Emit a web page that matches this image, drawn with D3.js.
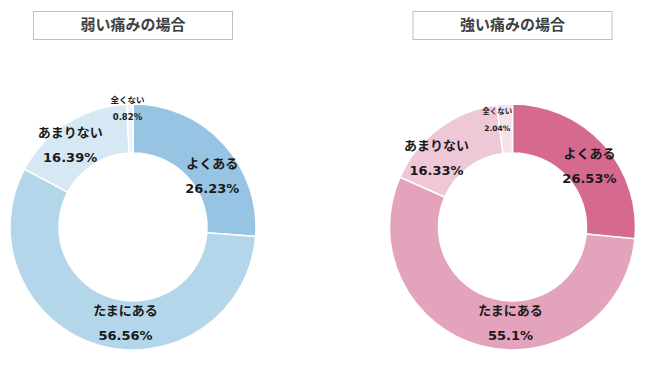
<!DOCTYPE html>
<html>
<head>
<meta charset="utf-8">
<script src="https://cdn.jsdelivr.net/npm/d3@7"></script>
<style>
  body { margin: 0; background: #fff; }
  svg { display: block; font-family: "DejaVu Sans", "Noto Sans CJK JP", sans-serif; }
</style>
</head>
<body>
<script>
// categories, clockwise from 12 o'clock
var categories = ["よくある", "たまにある", "あまりない", "全くない"];

// percentages per chart
var weakValues = [26.23, 56.56, 16.39, 0.82];
var strongValues = [26.53, 55.1, 16.33, 2.04];

var weakLabels = ["26.23%", "56.56%", "16.39%", "0.82%"];
var strongLabels = ["26.53%", "55.1%", "16.33%", "2.04%"];

var titles = ["弱い痛みの場合", "強い痛みの場合"];

var weakColors = ["#96c4e2", "#b3d6ea", "#d5e8f4", "#eaf3fa"];
var strongColors = ["#d6698f", "#e4a3bd", "#efc8d7", "#f7e2ea"];

var W = 649, H = 366;
var outerR = 123, innerR = 74;

// label nudges relative to arc centroid (Excel-style placement)
var weakNudge = [[7, 16], [20, 1], [-10, 1], [-3, -20]];
var strongNudge = [[4, 5], [23, 1], [-17, 10], [-9, -9]];

var charts = [
    { title: titles[0], values: weakValues, labels: weakLabels, colors: weakColors, nudge: weakNudge, cx: 133, smallFont: 8.5 },
    { title: titles[1], values: strongValues, labels: strongLabels, colors: strongColors, nudge: strongNudge, cx: 512.5, smallFont: 7.5 }
];

var svg = d3.select("body").append("svg")
    .attr("width", W)
    .attr("height", H);

var pie = d3.pie().sort(null).value(function (d) { return d; });
var arc = d3.arc().innerRadius(innerR).outerRadius(outerR);
var cy = 227;

charts.forEach(function (c) {
    // title box
    var tg = svg.append("g").attr("transform", "translate(" + c.cx + ",25)");
    tg.append("rect")
        .attr("x", -99.5).attr("y", -13.5)
        .attr("width", 199).attr("height", 28)
        .attr("fill", "#fff")
        .attr("stroke", "#bfbfbf")
        .attr("stroke-width", 1);
    tg.append("text")
        .attr("text-anchor", "middle")
        .attr("dy", "0.36em")
        .style("font-size", "15px")
        .style("font-weight", "bold")
        .style("fill", "#404040")
        .text(c.title);

    var g = svg.append("g").attr("transform", "translate(" + c.cx + "," + cy + ")");
    var arcs = pie(c.values);

    g.selectAll("path")
        .data(arcs)
        .enter().append("path")
        .attr("d", arc)
        .attr("fill", function (d, i) { return c.colors[i]; })
        .attr("stroke", "#fff")
        .attr("stroke-width", 1.5);

    var lab = g.selectAll(".lab")
        .data(arcs)
        .enter().append("g")
        .attr("class", "lab")
        .attr("transform", function (d, i) {
            var p = arc.centroid(d);
            return "translate(" + (p[0] + c.nudge[i][0]) + "," + (p[1] + c.nudge[i][1]) + ")";
        });

    lab.append("text")
        .attr("text-anchor", "middle")
        .attr("y", function (d, i) { return i === 3 ? -8.5 : -12.5; })
        .attr("dy", "0.36em")
        .style("font-size", function (d, i) { return (i === 3 ? c.smallFont : 13) + "px"; })
        .style("font-weight", "bold")
        .style("fill", "#1a1a1a")
        .text(function (d, i) { return categories[i]; });

    lab.append("text")
        .attr("text-anchor", "middle")
        .attr("y", function (d, i) { return i === 3 ? 8.5 : 12.5; })
        .attr("dy", "0.36em")
        .style("font-size", function (d, i) { return (i === 3 ? c.smallFont : 13) + "px"; })
        .style("font-weight", "bold")
        .style("fill", "#1a1a1a")
        .text(function (d, i) { return c.labels[i]; });
});
</script>
</body>
</html>
